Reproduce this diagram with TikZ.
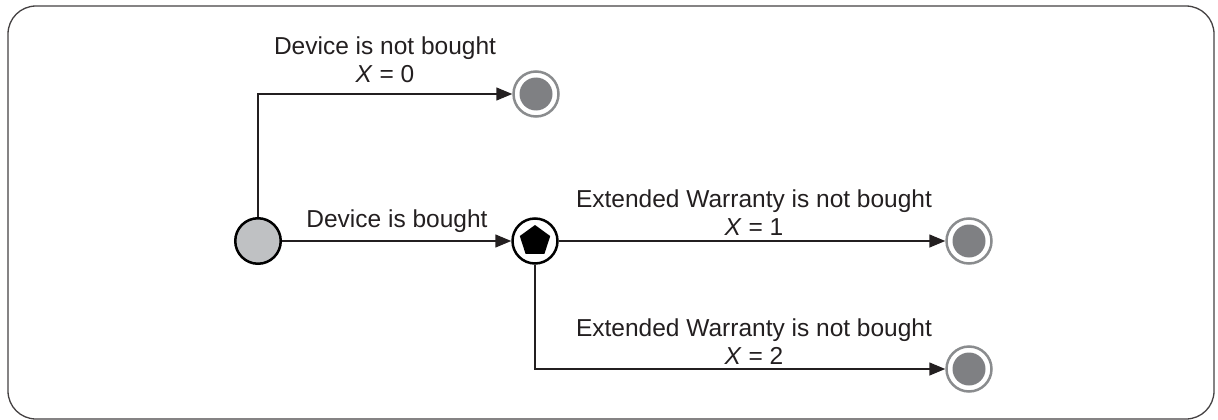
\documentclass[tikz,border=0pt]{standalone}
\usepackage{fontspec}
\setmainfont{Liberation Sans}
\usetikzlibrary{arrows.meta}

\definecolor{startfill}{HTML}{BFC1C3}
\definecolor{endring}{HTML}{8A8C8E}
\definecolor{endfill}{HTML}{7F8083}
\definecolor{ink}{HTML}{231F20}

\tikzset{
  startnode/.style={circle, draw=black, line width=2.5pt, fill=startfill,
    minimum size=45.5pt, inner sep=0pt},
  choicenode/.style={circle, draw=black, line width=2.5pt, fill=white,
    minimum size=45pt, inner sep=0pt,
    path picture={\fill[black, shift={(path picture bounding box.center)}]
      (90:16pt) -- (162:16pt) -- (234:16pt) -- (306:16pt) -- (18:16pt) -- cycle;}},
  endnode/.style={circle, draw=endring, line width=2.5pt, fill=white,
    minimum size=45pt, inner sep=0pt,
    path picture={\fill[endfill] (path picture bounding box.center) circle (16.5pt);}},
  flow/.style={draw=ink, line width=1.5pt, -{Triangle[length=16pt,width=13pt]}},
  lbl/.style={font=\fontsize{24.5}{28}\selectfont, align=center, text=ink, inner sep=0pt},
}

\begin{document}
\begin{tikzpicture}[x=1pt,y=-1pt]
  \useasboundingbox (0,0) rectangle (1218,420);
  % outer frame
  \draw[ink!85, line width=1.3pt, rounded corners=28pt] (8,6) rectangle (1214,419);

  % states
  \node[startnode]  (start) at (258,241) {};
  \node[choicenode] (buy)   at (535,241) {};
  \node[endnode]    (none)  at (536,94)  {};
  \node[endnode]    (one)   at (969,241) {};
  \node[endnode]    (two)   at (969,369) {};

  \coordinate (upbend) at (258,94);
  \coordinate (downbend) at (535,369);

  % transitions
  \draw[flow] (start.north) -- (upbend) -- (none.west);
  \draw[flow] (start.east) -- (buy.west);
  \draw[flow] (buy.east) -- (one.west);
  \draw[flow] (buy.south) -- (downbend) -- (two.west);

  % labels
  \node[lbl] (lnone) at (385,60)  {Device is not bought\\\textit{X} = 0};
  \node[lbl] (lbuy)  at (397,221) {Device is bought};
  \node[lbl] (lone)  at (754,213) {Extended Warranty is not bought\\\textit{X} = 1};
  \node[lbl] (ltwo)  at (754,342) {Extended Warranty is not bought\\\textit{X} = 2};
\end{tikzpicture}
\end{document}
